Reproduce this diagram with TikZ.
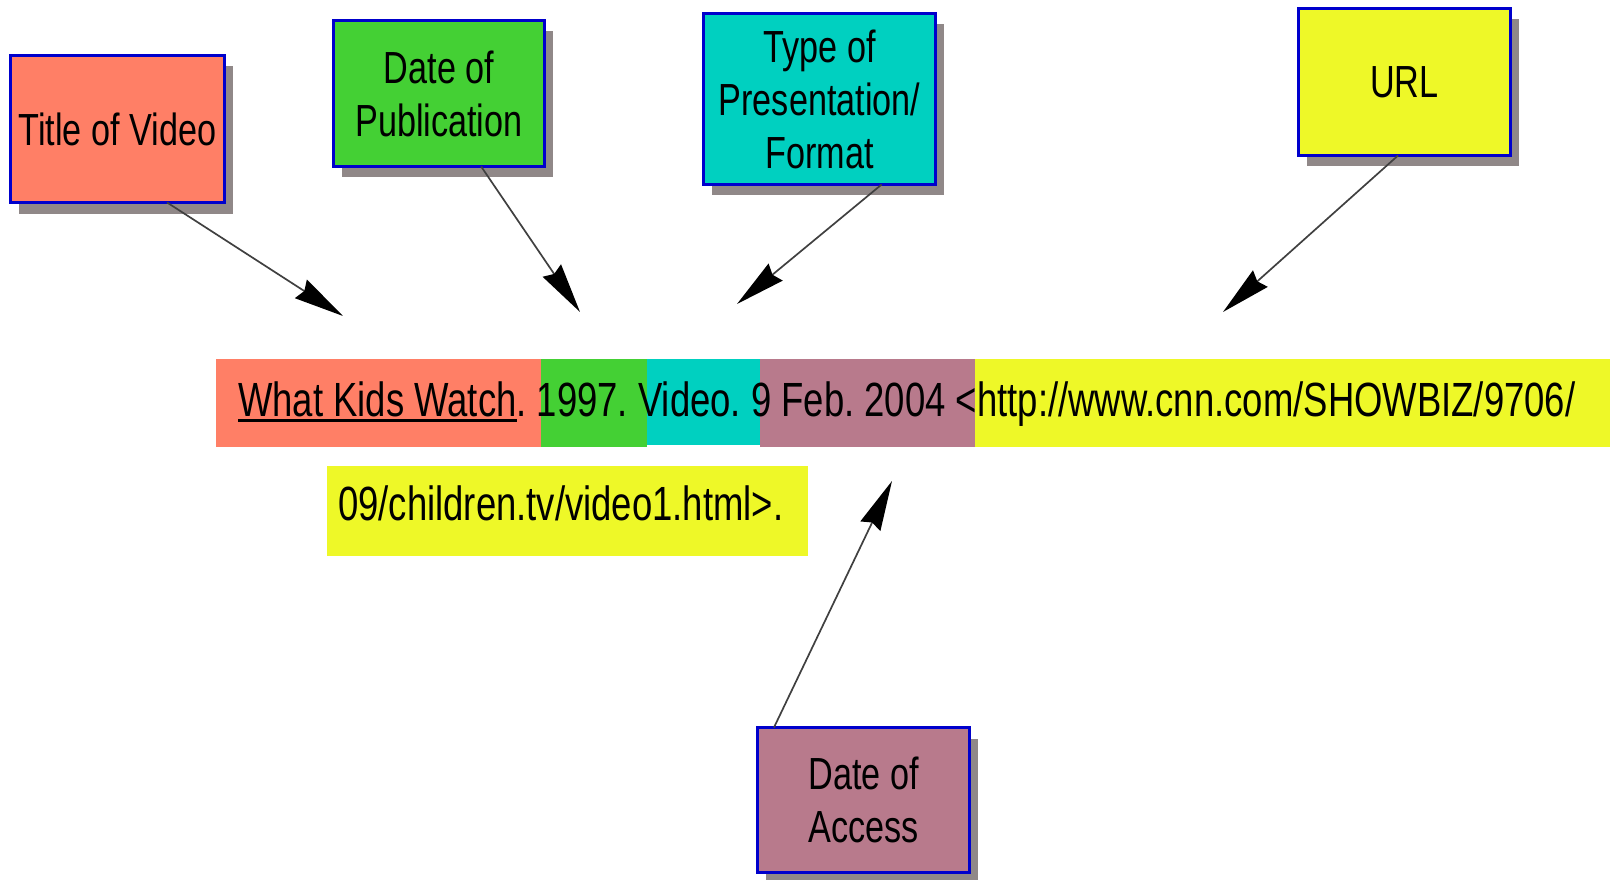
\documentclass[tikz,border=0pt]{standalone}
\usepackage{fontspec}
\setmainfont{Liberation Sans}[FakeStretch=0.76]
\usetikzlibrary{arrows.meta,shadows}

\definecolor{titlecol}{HTML}{FF7F66}
\definecolor{pubcol}{HTML}{44D034}
\definecolor{typecol}{HTML}{00D0C0}
\definecolor{accesscol}{HTML}{B87A8C}
\definecolor{urlcol}{HTML}{EEF828}
\definecolor{edgeblue}{HTML}{0000CC}
\definecolor{shadowgray}{HTML}{908888}

\newcommand{\undertitle}[1]{\setbox0=\hbox{#1}\rlap{\rule[-5.5pt]{\wd0}{2.5pt}}\box0}

\tikzset{
	labelbox/.style={draw=edgeblue, line width=3pt, inner sep=0pt, outer sep=0pt, align=center,
		font=\fontsize{45}{53}\selectfont,
		drop shadow={shadow xshift=8pt, shadow yshift=-11pt, fill=shadowgray, opacity=1}},
	pointer/.style={line width=1.7pt, draw=black!75, -{Stealth[length=50pt, width=22pt, inset=4pt, black]}},
	citetext/.style={anchor=base west, inner sep=0pt, font=\fontsize{48}{48}\selectfont\frenchspacing}
}

\begin{document}
\begin{tikzpicture}[x=1pt, y=-1pt]
	\useasboundingbox (0,0) rectangle (1610,880);
	% coloured strips of the citation
	\fill [titlecol] (216,359) rectangle (541,447);
	\fill [pubcol] (541,359) rectangle (647,447);
	\fill [typecol] (647,359) rectangle (760,445);
	\fill [accesscol] (760,359) rectangle (975,447);
	\fill [urlcol] (975,359) rectangle (1610,447);
	\fill [urlcol] (327,466) rectangle (808,556);
	\node [citetext] (citeLine) at (238,416) {\undertitle{What Kids Watch}. 1997. Video. 9 Feb. 2004 <http://www.cnn.com/SHOWBIZ/9706/};
	\node [citetext] (citeCont) at (338,520) {09/children.tv/video1.html>.};
	% the labels
	\node [labelbox, fill=titlecol, minimum width=214pt, minimum height=147pt] (title) at (117.5,129) {Title of Video};
	\node [labelbox, fill=pubcol, minimum width=211pt, minimum height=146pt] (pub) at (439,93.5) {Date of\\Publication};
	\node [labelbox, fill=typecol, minimum width=232pt, minimum height=171pt] (type) at (819.5,99) {Type of\\Presentation/\\Format};
	\node [labelbox, fill=urlcol, minimum width=212pt, minimum height=147pt] (url) at (1404.5,82) {URL};
	\node [labelbox, fill=accesscol, minimum width=212pt, minimum height=145pt] (access) at (863.5,800) {Date of\\Access};
	% where the arrows point
	\coordinate (titleTip) at (343,316);
	\coordinate (pubTip) at (580,312);
	\coordinate (typeTip) at (737,304);
	\coordinate (urlTip) at (1223,312);
	\coordinate (accessTip) at (892,481);
	\draw [pointer] (title.-56.1) -- (titleTip);
	\draw [pointer] (pub.-60.6) -- (pubTip);
	\draw [pointer] (type.-54.8) -- (typeTip);
	\draw [pointer] (url.-95.7) -- (urlTip);
	\draw [pointer] (access.141.1) -- (accessTip);
\end{tikzpicture}
\end{document}
